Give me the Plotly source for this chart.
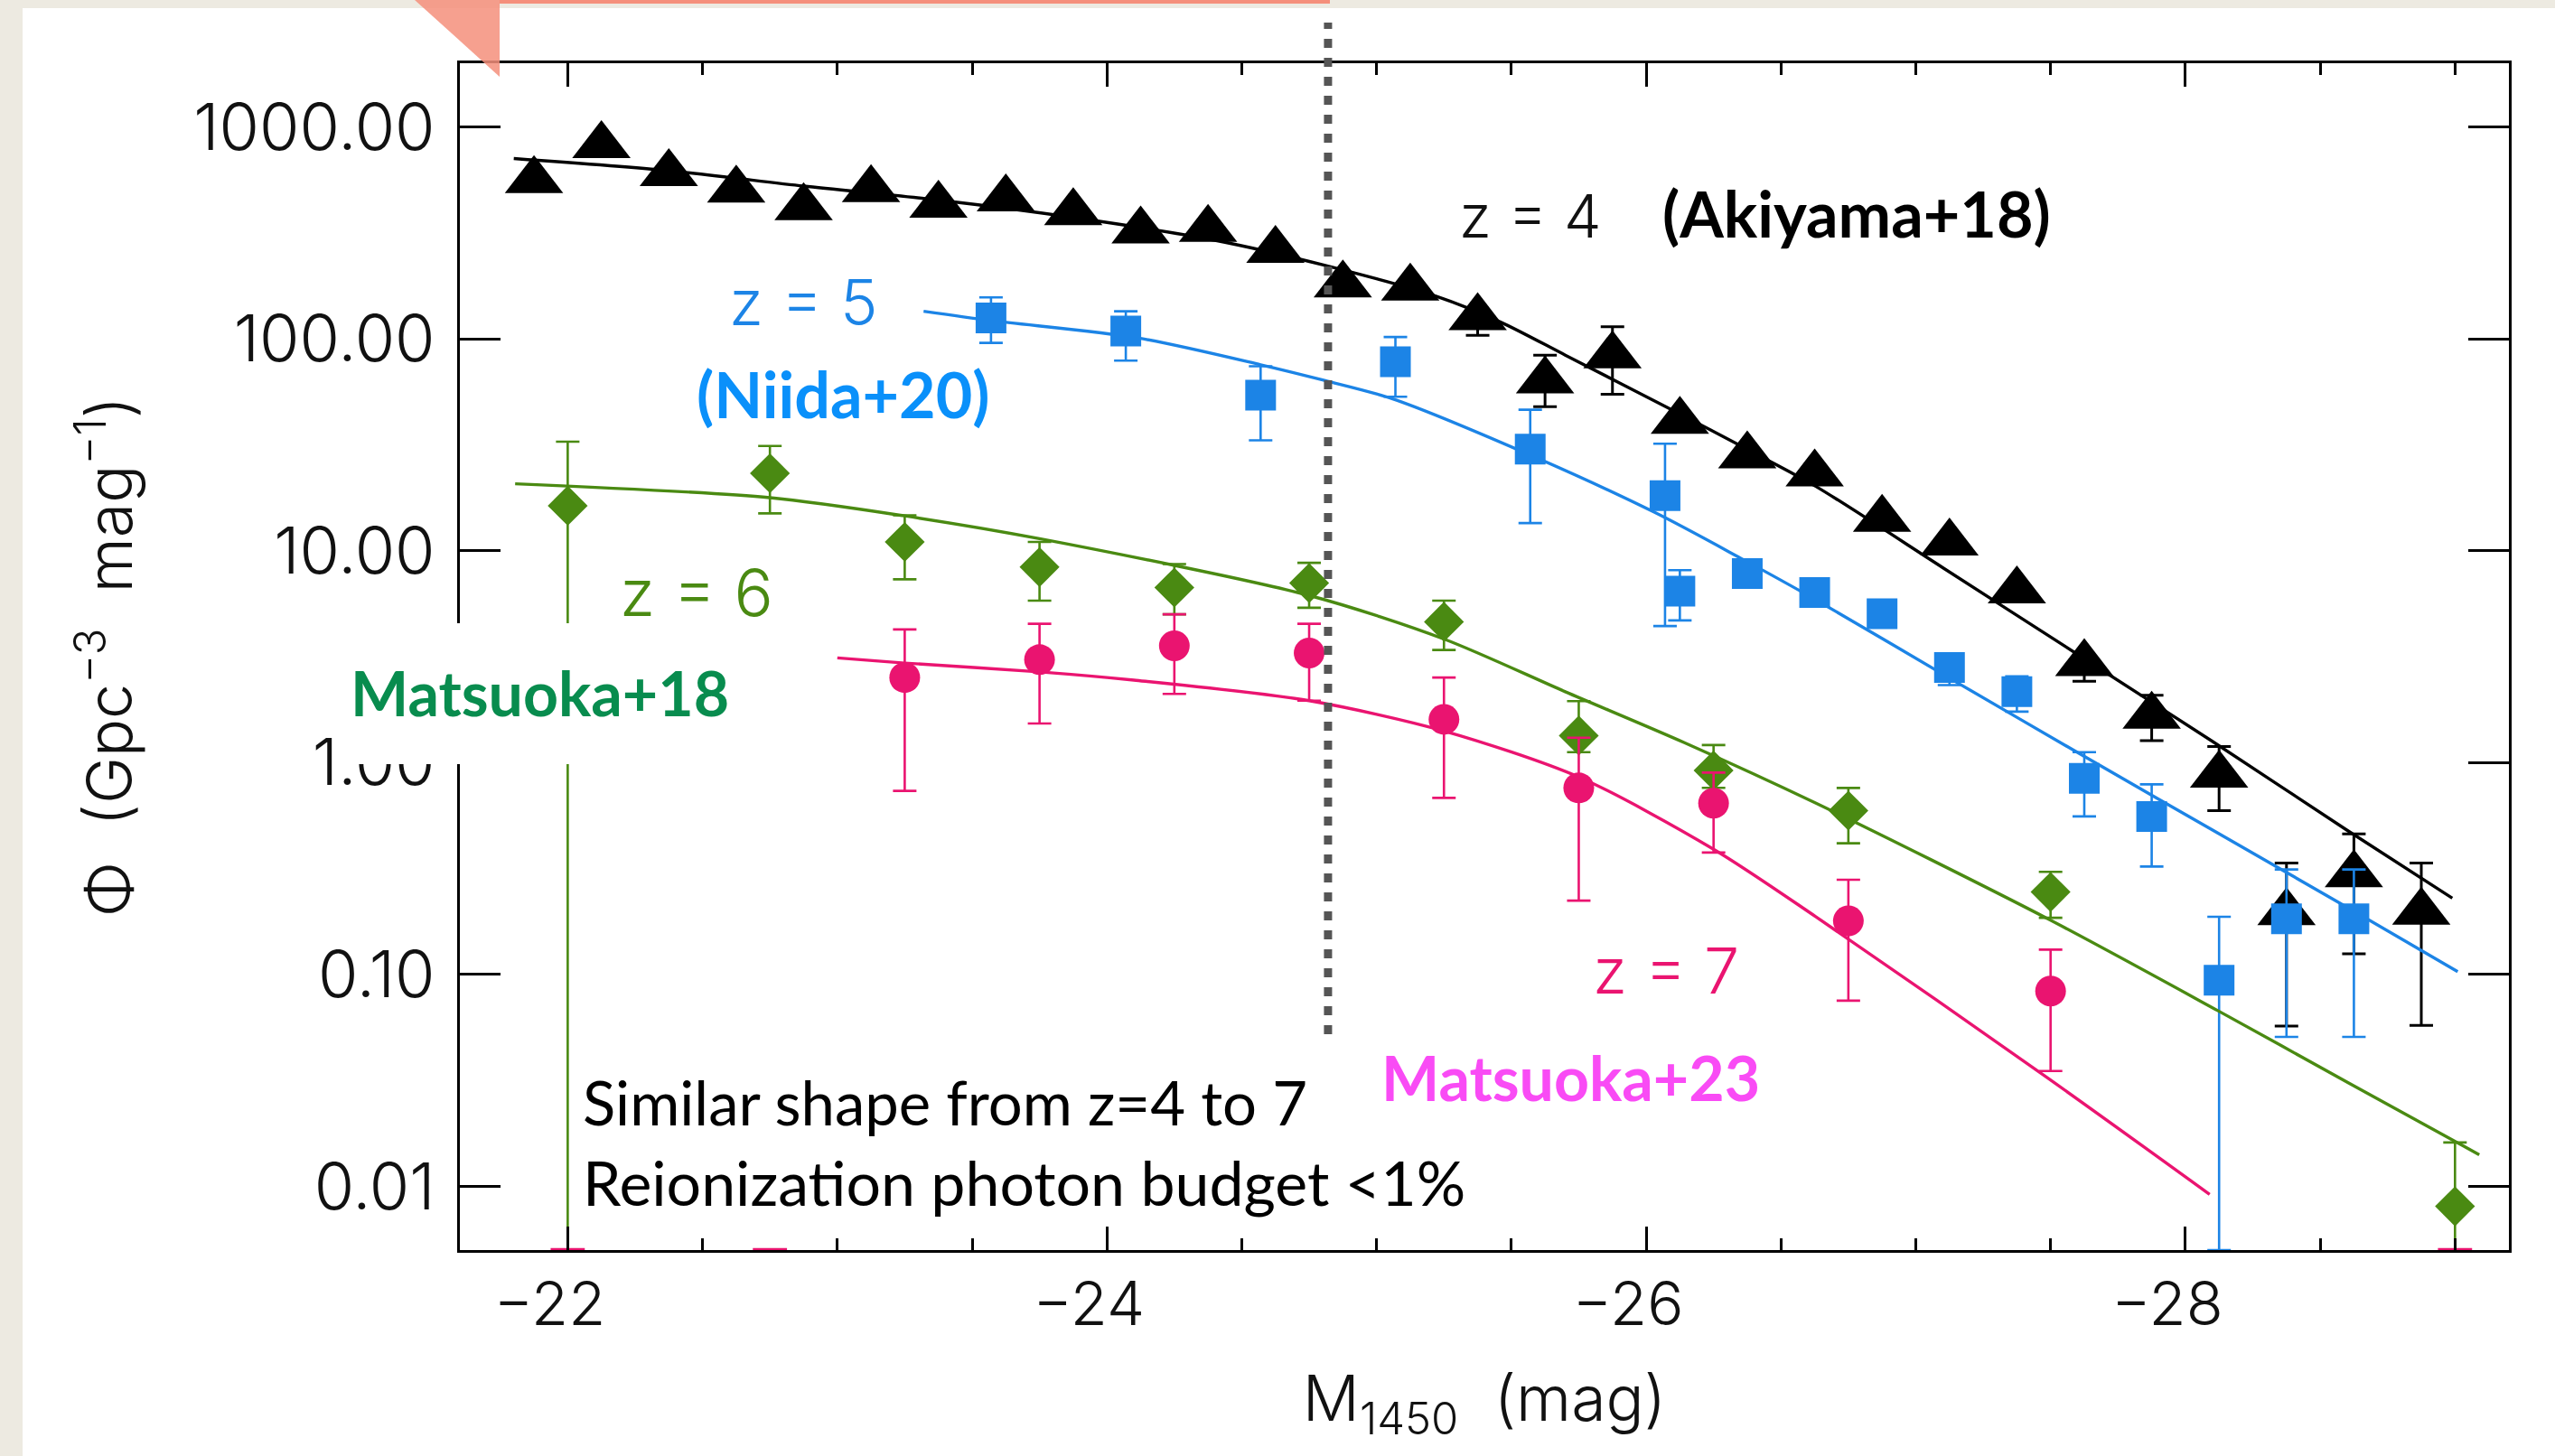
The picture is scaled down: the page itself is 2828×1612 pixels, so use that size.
import math
import plotly.graph_objects as go

# ---------------- data ----------------
# z = 4 quasar luminosity function (Akiyama+18)
Z4_M = [-21.875, -22.125, -22.375, -22.625, -22.875, -23.125, -23.375, -23.625,
        -23.875, -24.125, -24.375, -24.625, -24.875, -25.125, -25.375, -25.625,
        -25.875, -26.125, -26.375, -26.625, -26.875, -27.125, -27.375, -27.625,
        -27.875, -28.125, -28.375, -28.625, -28.875]
Z4_PHI = [560, 818, 604, 505, 417, 507, 428, 459, 395, 324, 329, 262, 180, 174,
          126, 63.5, 83.4, 40.9, 28.1, 23.1, 14.1, 10.9, 6.47, 2.94, 1.66, 0.875,
          0.196, 0.296, 0.197]
Z4_HI = [None, None, None, None, None, None, None, None, None, None, None, None,
         None, None, None, 83.8, 114, None, None, None, None, None, None, None,
         2.08, 1.19, 0.336, 0.461, 0.336]
Z4_LO = [None, None, None, None, None, None, None, None, None, None, None, None,
         None, None, 104, 47.9, 54.7, None, None, None, None, None, None, 2.42,
         1.27, 0.593, 0.057, 0.125, 0.0575]
Z4_FIT_M = [-21.80, -22.375, -22.875, -23.375, -23.875, -24.40, -24.81, -25.22,
            -25.46, -25.70, -26.11, -26.39, -26.63, -27.10, -27.60, -28.10,
            -28.60, -28.99]
Z4_FIT_PHI = [710, 622, 526, 452, 374, 292, 222, 159, 120, 83.8, 45.2, 29.4,
              20.1, 8.32, 3.24, 1.26, 0.479, 0.229]

# z = 5 (Niida+20)
Z5_M = [-23.57, -24.07, -24.57, -25.07, -25.57, -26.07, -26.125, -26.375,
        -26.625, -26.875, -27.125, -27.375, -27.625, -27.875, -28.125, -28.375,
        -28.625]
Z5_PHI = [125.6, 109, 54.2, 78.0, 30.2, 18.2, 6.44, 7.80, 6.35, 5.04, 2.81, 2.16,
          0.843, 0.557, 0.094, 0.183, 0.183]
Z5_HI = [157, 135, 74.3, 102, 46.3, 32.0, 8.09, None, None, None, None, 2.55,
         1.12, 0.789, 0.187, 0.313, 0.313]
Z5_LO = [95.7, 78.9, 33.2, 53.3, 13.5, 4.41, 4.69, None, None, None, 2.32, 1.74,
         0.557, 0.323, 0.005, 0.0507, 0.0507]
Z5_FIT_M = [-23.32, -23.57, -24.115, -24.57, -24.81, -25.06, -25.54, -26.03,
            -26.35, -26.63, -27.15, -27.63, -28.12, -28.61, -29.01]
Z5_FIT_PHI = [135, 122, 101, 75.5, 63.5, 52.1, 29.4, 15.2, 9.23, 5.86, 2.40,
              1.06, 0.465, 0.204, 0.103]

# z = 6 (Matsuoka+18)
Z6_M = [-22.0, -22.75, -23.25, -23.75, -24.25, -24.75, -25.25, -25.75, -26.25,
        -26.75, -27.5, -29.0]
Z6_PHI = [16.3, 23.2, 11.0, 8.37, 6.70, 7.03, 4.62, 1.34, 0.918, 0.593, 0.245,
          0.00804]
Z6_HI = [32.7, 31.2, 14.7, 11.0, 8.65, 8.77, 5.81, 1.95, 1.21, 0.759, 0.305,
         0.0161]
Z6_LO = [0.005, 15.0, 7.33, 5.81, 5.01, 5.38, 3.40, 1.12, 0.76, 0.416, 0.185,
         0.005]
Z6_FIT_M = [-21.805, -22.75, -23.25, -23.75, -24.75, -25.25, -25.70, -26.14,
            -26.63, -27.49, -28.12, -28.61, -29.09]
Z6_FIT_PHI = [20.7, 17.8, 14.6, 11.4, 6.15, 3.83, 2.16, 1.245, 0.643, 0.183,
              0.0675, 0.0305, 0.0141]

# z = 7 (Matsuoka+23)
Z7_M = [-23.25, -23.75, -24.25, -24.75, -25.25, -25.75, -26.25, -26.75, -27.5]
Z7_PHI = [2.52, 3.06, 3.56, 3.29, 1.60, 0.759, 0.643, 0.179, 0.0834]
Z7_HI = [4.25, 4.52, 5.01, 4.52, 2.52, 1.31, 0.897, 0.280, 0.131]
Z7_LO = [0.735, 1.53, 2.11, 1.96, 0.681, 0.223, 0.376, 0.0752, 0.0350]
Z7_FLOOR_M = [-22.0, -22.75, -29.0]
Z7_FIT_M = [-23.00, -23.25, -23.75, -24.10, -24.75, -25.25, -25.75, -26.25,
            -26.63, -27.49, -28.09]
Z7_FIT_PHI = [3.12, 2.95, 2.68, 2.45, 1.96, 1.41, 0.855, 0.390, 0.187, 0.0324,
              0.00916]

Y_TICKS = [0.01, 0.1, 1, 10, 100, 1000]
Y_TICKTEXT = ["0.01", "0.10", "1.00", "10.00", "100.00", "1000.00"]
X_TICKS = [-22, -24, -26, -28]
X_TICKTEXT = ["\u221222", "\u221224", "\u221226", "\u221228"]

X_RANGE = [-21.6, -29.2]
Y_MIN, Y_MAX = 0.005, 2000
M_CUT = -24.82          # vertical dotted marker

# ---------------- style ----------------
BLACK = "#000000"
BLUE = "#1C84E6"
GREEN = "#4A8A12"
PINK = "#EA1470"
NIIDA_BLUE = "#0A90FA"
M18_GREEN = "#088C4E"
M23_MAGENTA = "#F94BF5"
BEIGE = "#EDEAE1"
SALMON = "#F58F7B"

W, H = 2828, 1612
L, R, T, B = 509, 51, 70, 228
PX0, PX1 = L, W - R
PY0, PY1 = T, H - B

AX_FONT = "Inter, Liberation Sans, Arial, sans-serif"
TXT_FONT = "Lato, Open Sans, sans-serif"


def px(x):
    return (x - PX0) / (PX1 - PX0)


def py(y):
    return (PY1 - y) / (PY1 - PY0)


def err_arrays(phi, hi, lo):
    plus = [(h - p) if h is not None else 0 for p, h in zip(phi, hi)]
    minus = [(p - l) if l is not None else 0 for p, l in zip(phi, lo)]
    return plus, minus


fig = go.Figure()

series = [
    (Z4_M, Z4_PHI, Z4_HI, Z4_LO, Z4_FIT_M, Z4_FIT_PHI, BLACK, "triangle-up", 56, 3.0),
    (Z5_M, Z5_PHI, Z5_HI, Z5_LO, Z5_FIT_M, Z5_FIT_PHI, BLUE, "square", 34, 2.6),
    (Z6_M, Z6_PHI, Z6_HI, Z6_LO, Z6_FIT_M, Z6_FIT_PHI, GREEN, "diamond", 34, 2.6),
    (Z7_M, Z7_PHI, Z7_HI, Z7_LO, Z7_FIT_M, Z7_FIT_PHI, PINK, "circle", 34, 2.6),
]

for m, phi, hi, lo, fm, fphi, col, sym, size, ethick in series:
    fig.add_trace(go.Scatter(
        x=fm, y=fphi, mode="lines",
        line=dict(color=col, width=3.4, shape="spline", smoothing=0.8),
        hoverinfo="skip"))
    plus, minus = err_arrays(phi, hi, lo)
    fig.add_trace(go.Scatter(
        x=m, y=phi, mode="markers",
        marker=dict(symbol=sym, size=size, color=col, line=dict(width=0)),
        error_y=dict(type="data", symmetric=False, array=plus, arrayminus=minus,
                     color=col, thickness=ethick, width=13),
        cliponaxis=False))

# zero-density bins of the z=7 sample sit on the lower axis
fig.add_trace(go.Scatter(
    x=Z7_FLOOR_M, y=[Y_MIN] * len(Z7_FLOOR_M), mode="markers",
    marker=dict(symbol="line-ew", size=27, line=dict(color=PINK, width=4.5)),
    cliponaxis=False, hoverinfo="skip"))

axis_common = dict(
    showline=True, linecolor=BLACK, linewidth=3, mirror="allticks",
    ticks="inside", tickcolor=BLACK, tickwidth=3,
    showgrid=False, zeroline=False,
)

fig.update_xaxes(
    **axis_common,
    range=X_RANGE, tickvals=X_TICKS, ticktext=X_TICKTEXT, ticklen=26,
    ticklabelshift=20,
    tickfont=dict(family=AX_FONT, size=67, color="#111111", weight=300),
    minor=dict(tickmode="linear", tick0=-22, dtick=0.5, ticks="inside",
               ticklen=13, tickwidth=3, tickcolor=BLACK, showgrid=False),
    title=dict(text="M<sub>1450</sub>  (mag)",
               font=dict(family=AX_FONT, size=70, color="#111111", weight=300),
               standoff=42),
)
fig.update_yaxes(
    **axis_common,
    type="log", range=[math.log10(Y_MIN), math.log10(Y_MAX)],
    tickvals=Y_TICKS, ticktext=Y_TICKTEXT, ticklen=45, ticklabelstandoff=10,
    tickfont=dict(family=AX_FONT, size=72, color="#111111", weight=300),
    title=dict(text="\u03a6  (Gpc<sup>\u22123</sup>  mag<sup>\u22121</sup>)",
               font=dict(family=AX_FONT, size=70, color="#111111", weight=300),
               standoff=45),
)

shapes = [
    # white slide area on the beige page
    dict(type="rect", xref="paper", yref="paper", layer="below",
         x0=px(25), x1=px(W), y0=py(H), y1=py(9),
         fillcolor="white", line=dict(width=0)),
    # dotted vertical marker
    dict(type="line", xref="x", yref="paper", layer="above",
         x0=M_CUT, x1=M_CUT, y0=py(1145), y1=py(25),
         line=dict(color="#555555", width=9, dash="10px,11px")),
    # white box behind the Matsuoka+18 label
    dict(type="rect", xref="paper", yref="paper", layer="above",
         x0=px(380), x1=px(880), y0=py(846), y1=py(690),
         fillcolor="white", line=dict(width=0)),
    # salmon corner accent
    dict(type="path", xref="paper", yref="paper", layer="above",
         path=f"M {px(459)},{py(0)} L {px(553)},{py(0)} L {px(553)},{py(85)} Z",
         fillcolor=SALMON, line=dict(width=0), opacity=0.85),
    dict(type="rect", xref="paper", yref="paper", layer="above",
         x0=px(553), x1=px(1472), y0=py(4), y1=py(0),
         fillcolor=SALMON, line=dict(width=0)),
]


def label(text, m, phi, color, size, bold=False, family=TXT_FONT,
          xanchor="center", weight=None):
    if bold:
        text = f"<b>{text}</b>"
    font = dict(family=family, size=size, color=color)
    if weight is not None:
        font["weight"] = weight
    return dict(text=text, x=m, y=math.log10(phi), xref="x", yref="y",
                showarrow=False, xanchor=xanchor, yanchor="middle", font=font)


annotations = [
    label("z = 4", -25.572, 380, "#111111", 66, family=AX_FONT, weight=300),
    label("(Akiyama+18)", -26.781, 392, BLACK, 70, bold=True),
    label("z = 5", -22.876, 149, BLUE, 70, family=AX_FONT, weight=300),
    label("(Niida+20)", -23.023, 55.2, NIIDA_BLUE, 70, bold=True),
    label("z = 6", -22.478, 6.4, GREEN, 72, family=AX_FONT, weight=300),
    label("Matsuoka+18", -21.895, 2.15, M18_GREEN, 68, bold=True),
    label("z = 7", -26.074, 0.104, PINK, 70, family=AX_FONT, weight=300),
    label("Matsuoka+23", -25.719, 0.0329, M23_MAGENTA, 68, bold=True),
    label("Similar shape from z=4 to 7", -22.05, 0.025, BLACK, 67, xanchor="left"),
    label("Reionization photon budget <1%", -22.05, 0.0105, BLACK, 68,
          xanchor="left"),
]

fig.update_layout(
    width=W, height=H, autosize=False,
    margin=dict(l=L, r=R, t=T, b=B, pad=0),
    paper_bgcolor=BEIGE, plot_bgcolor="white",
    showlegend=False, shapes=shapes, annotations=annotations,
)

fig.write_html("out.html")
